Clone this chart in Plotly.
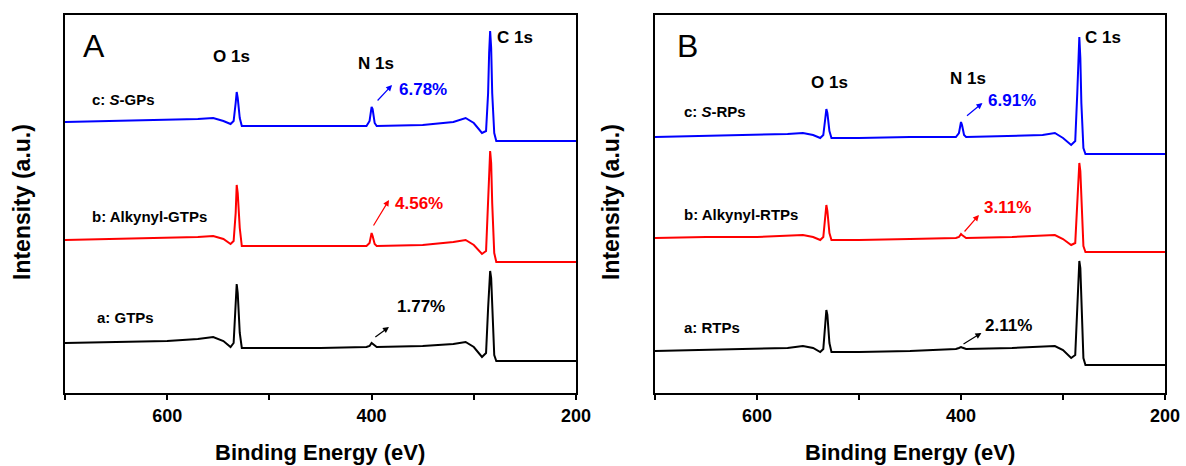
import plotly.graph_objects as go

# ---------------- data ----------------
energy = [700, 650, 600, 570, 555, 545, 538, 535, 533, 532, 531, 529, 527, 500, 450,
          405, 402, 400, 399, 397, 395, 350, 320, 308, 300, 292, 288, 286, 285, 284,
          283, 282, 280, 278, 250, 200]

# Panel A
a_gtps = [50, 51, 52, 54, 56, 52, 46, 50, 85, 109, 100, 60, 45, 45, 45,
          46, 47, 50, 49, 47, 46, 47, 49, 51, 46, 36, 40, 85, 110, 122,
          115, 85, 38, 32, 32, 32]
b_alkynyl_gtps = [153, 154, 155, 156, 157, 154, 149, 152, 180, 208, 200, 165, 147, 147, 147,
                  147, 150, 160, 157, 149, 147, 148, 151, 153, 148, 139, 142, 190, 225, 242,
                  230, 190, 140, 131, 131, 131]
c_s_gps = [271, 272, 273, 274, 275, 272, 269, 272, 290, 301, 295, 275, 267, 267, 267,
           267, 272, 286, 284, 270, 267, 268, 271, 275, 270, 260, 262, 300, 340, 362,
           345, 300, 260, 252, 252, 252]

# Panel B
a_rtps = [42, 43, 44, 45, 47, 45, 41, 44, 70, 83, 78, 50, 41, 41, 42,
          44, 45, 46, 45.5, 45, 44, 45, 46, 47, 43, 35, 38, 90, 120, 132,
          125, 90, 35, 28, 28, 28]
b_alkynyl_rtps = [155, 156, 156, 157, 158, 156, 153, 156, 175, 188, 182, 160, 153, 153, 154,
                  155, 156, 159, 158, 156, 155, 156, 157, 158, 154, 148, 150, 190, 215, 230,
                  222, 190, 147, 141, 141, 141]
c_s_rps = [256, 257, 258, 259, 260, 258, 255, 258, 275, 284, 280, 262, 255, 255, 256,
           256, 260, 271, 268, 258, 256, 257, 258, 260, 255, 248, 252, 300, 335, 356,
           335, 290, 245, 239, 239, 239]

tick_vals = [700, 600, 500, 400, 300, 200]
tick_text = ["", "600", "", "400", "", "200"]

BLUE = "#0000ff"
RED = "#ff0000"
BLACK = "#000000"
FONT = "Liberation Sans, Arial, sans-serif"

fig = go.Figure()

for y, c, ax in [(a_gtps, BLACK, "x"), (b_alkynyl_gtps, RED, "x"), (c_s_gps, BLUE, "x"),
                 (a_rtps, BLACK, "x2"), (b_alkynyl_rtps, RED, "x2"), (c_s_rps, BLUE, "x2")]:
    fig.add_trace(go.Scatter(x=energy, y=y, mode="lines", line=dict(color=c, width=2),
                             xaxis=ax, yaxis="y" if ax == "x" else "y2",
                             showlegend=False, hoverinfo="skip"))

W, H = 1186, 466
WR = 1171  # effective rendered width observed in the viewer
ydom = [(H - 393) / H, (H - 15) / H]
axis_common = dict(range=[700, 200], tickvals=tick_vals, ticktext=tick_text,
                   ticks="outside", ticklen=5, tickwidth=2, tickcolor="black",
                   showline=True, linecolor="black", linewidth=2, mirror=True,
                   showgrid=False, zeroline=False,
                   tickfont=dict(family=FONT, size=18, color="black", weight="bold"))
yaxis_common = dict(range=[0, 378], showticklabels=False, ticks="",
                    showline=True, linecolor="black", linewidth=2, mirror=True,
                    showgrid=False, zeroline=False, domain=ydom)

fig.update_layout(
    width=W, height=H, margin=dict(l=0, r=0, t=0, b=0),
    paper_bgcolor="white", plot_bgcolor="white",
    xaxis=dict(domain=[65 / WR, 576 / WR], anchor="y", **axis_common),
    xaxis2=dict(domain=[655 / WR, 1165 / WR], anchor="y2", **axis_common),
    yaxis=dict(anchor="x", **yaxis_common),
    yaxis2=dict(anchor="x2", **yaxis_common),
)

def txt(text, x, y, ax, size=14, color="black", xanchor="left", bold=True):
    fig.add_annotation(text=text, x=x, y=y, xref=ax, yref=ax.replace("x", "y"),
                       showarrow=False, xanchor=xanchor, yanchor="middle",
                       font=dict(family=FONT, size=size, color=color,
                                 weight="bold" if bold else "normal"))

def arrow(x0, y0, x1, y1, ax, color):
    fig.add_annotation(x=x1, y=y1, ax=x0, ay=y0, xref=ax, yref=ax.replace("x", "y"),
                       axref=ax, ayref=ax.replace("x", "y"), text="", showarrow=True,
                       arrowhead=2, arrowsize=1, arrowwidth=1.2, arrowcolor=color)

# Panel A labels
txt("A", 684, 347, "x", size=32, bold=False)
txt("O 1s", 537, 336, "x", size=17, xanchor="center")
txt("N 1s", 395.5, 329, "x", size=17, xanchor="center")
txt("C 1s", 279.5, 355, "x", size=17)
txt("c: <i>S</i>-GPs", 676, 294, "x", size=15)
txt("6.78%", 375, 304, "x", size=17, color=BLUE)
arrow(395.5, 291, 380, 308, "x", BLUE)
txt("b: Alkynyl-GTPs", 676, 177, "x", size=15)
txt("4.56%", 378.6, 190, "x", size=17, color=RED)
arrow(399, 166, 383, 193, "x", RED)
txt("a: GTPs", 671, 76, "x", size=15)
txt("1.77%", 377.5, 87, "x", size=17)
arrow(397.8, 55, 383, 66, "x", BLACK)

# Panel B labels
txt("B", 680, 347, "x2", size=32, bold=False)
txt("O 1s", 528.6, 311, "x2", size=17, xanchor="center")
txt("N 1s", 393.4, 315, "x2", size=17, xanchor="center")
txt("C 1s", 280, 355, "x2", size=17)
txt("c: <i>S</i>-RPs", 673.6, 282, "x2", size=15)
txt("6.91%", 375.5, 293, "x2", size=17, color=BLUE)
arrow(395.6, 276, 379, 290, "x2", BLUE)
txt("b: Alkynyl-RTPs", 673.6, 179, "x2", size=15)
txt("3.11%", 379, 186, "x2", size=17, color=RED)
arrow(397.8, 160, 382.4, 178, "x2", RED)
txt("a: RTPs", 673.6, 66, "x2", size=15)
txt("2.11%", 378, 68, "x2", size=17)
arrow(399, 48, 380, 60, "x2", BLACK)

# Axis titles
for xc in [22, 611]:
    fig.add_annotation(text="Intensity (a.u.)", x=xc / WR, y=(H - 202) / H, xref="paper", yref="paper",
                       showarrow=False, textangle=-90, xanchor="center", yanchor="middle",
                       font=dict(family=FONT, size=23, color="black", weight="bold"))
for xc in [320, 910]:
    fig.add_annotation(text="Binding Energy (eV)", x=xc / WR, y=(H - 452) / H, xref="paper", yref="paper",
                       showarrow=False, xanchor="center", yanchor="middle",
                       font=dict(family=FONT, size=22, color="black", weight="bold"))

fig.write_html("out.html")
